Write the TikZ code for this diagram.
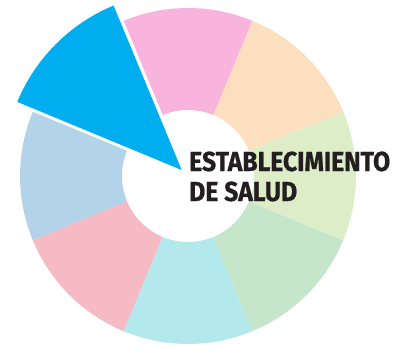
\documentclass[tikz,border=0pt]{standalone}
\usepackage{fontspec}
\newfontfamily\labfont{Fira Sans}[BoldFeatures={FakeBold=0.8}]
\definecolor{cPeach}{HTML}{FCDFBF}
\definecolor{cPink}{HTML}{F9B4DD}
\definecolor{cBlue}{HTML}{00AEEF}
\definecolor{cLBlue}{HTML}{B3D3E8}
\definecolor{cRose}{HTML}{F5BAC4}
\definecolor{cCyan}{HTML}{B3E9EC}
\definecolor{cGreen}{HTML}{C6E6CB}
\definecolor{cLGreen}{HTML}{DCEDC8}
\definecolor{cText}{HTML}{231F20}
\tikzset{lab/.style={inner sep=0pt, anchor=base west, text=cText, font=\labfont\bfseries\fontsize{27.5}{30}\selectfont}}
\newcommand{\seg}[3]{\fill[#3] ([shift={(#1:168)}]C) arc[start angle=#1,end angle=#2,radius=168] -- ([shift={(#2:66)}]C) arc[start angle=#2,end angle=#1,radius=66] -- cycle;}
\begin{document}
\begin{tikzpicture}[x=1pt,y=1pt]
\useasboundingbox (0,0) rectangle (402,349);
\coordinate (C) at (188,173);
\coordinate (A) at (181.7,179);
\seg{22.5}{67.5}{cPeach}
\seg{67.5}{112.5}{cPink}
\seg{157.5}{202.5}{cLBlue}
\seg{202.5}{247.5}{cRose}
\seg{247.5}{292.5}{cCyan}
\seg{292.5}{337.5}{cGreen}
\seg{337.5}{382.5}{cLGreen}
\fill[cBlue] (A) -- ([shift={(112.5:178)}]A) arc[start angle=112.5,end angle=157.5,radius=178] -- cycle;
\node[lab] (t1) at (189,178) {\scalebox{0.9}[1]{ESTABLECIMIENTO}};
\node[lab] (t2) at (189,148) {\scalebox{0.9}[1]{DE SALUD}};
\end{tikzpicture}
\end{document}
